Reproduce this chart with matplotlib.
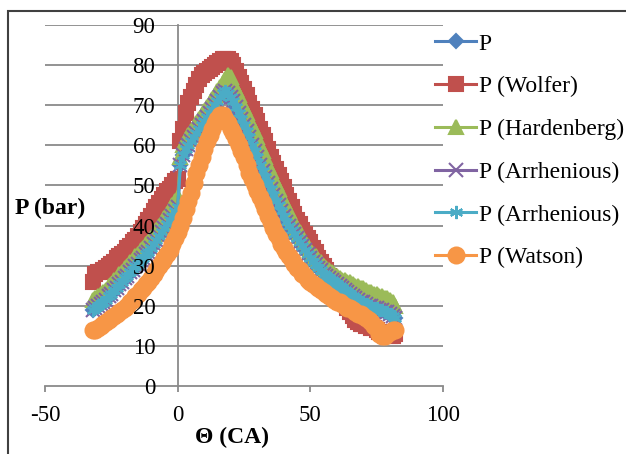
import numpy as np
import matplotlib
matplotlib.use("Agg")
import matplotlib.pyplot as plt
from matplotlib.patches import Rectangle

plt.rcParams['font.family'] = ['Liberation Serif', 'DejaVu Serif']
plt.rcParams['axes.unicode_minus'] = False

# crank angle, 1 deg steps from -32 to 82
theta = np.arange(-32, 83)

p_wolfer = [
    26, 28, 28.5, 28.5, 29, 29.5, 30, 30.5, 31, 32,
    32.5, 33, 33.5, 34.5, 35, 36, 36.5, 37.5, 38.5, 39.5,
    40.5, 41.5, 42.5, 43.5, 44.5, 45.5, 46.5, 47.5, 48.5, 49,
    50, 51, 51.5, 61, 64, 68, 70.5, 72, 73.5, 75,
    76.5, 77.5, 78, 78.5, 79, 79.5, 80, 80.5, 81, 81.5,
    81.5, 81.5, 81, 80, 78.5, 77, 75.5, 74, 72.5, 70.5,
    69, 67.5, 66, 64, 62.5, 61, 59, 57, 55.5, 54,
    52.5, 51, 49.5, 47.5, 46, 44.5, 43, 41.5, 40.5, 39,
    38, 37, 36, 34.5, 33.5, 32, 31, 30, 29, 27.5,
    26.5, 25, 23.5, 22.5, 21.5, 20.5, 19.5, 18.5, 17.5, 16.5,
    16, 15.5, 15.5, 15, 15, 14.5, 14.5, 14, 13.5, 13.5,
    13, 13, 12.5, 12.5, 13]
p_hardenberg = [
    21.5, 22, 22.5, 23, 23.5, 24, 25, 25.5, 26.5, 27,
    28, 28.5, 29.5, 30, 31, 31.5, 32.5, 33, 34, 34.5,
    35.5, 36, 37, 38, 39, 40, 41, 42, 43, 44,
    45, 46, 47, 57, 60, 61.5, 62.5, 63.5, 64.5, 65.5,
    66.5, 67.5, 68.5, 69.5, 70.5, 71.5, 72.5, 73.5, 74.5, 75.5,
    76.5, 77.5, 77, 75.5, 74, 72.5, 71, 69.5, 68, 66.5,
    65, 63.5, 62, 60, 58.5, 57, 55, 53.5, 52, 50.5,
    49, 47.5, 46, 44.5, 43.5, 42, 41, 39.5, 38.5, 37,
    36, 35, 34, 33, 32.5, 31.5, 31, 30, 29.5, 29,
    28.5, 28, 27.5, 27, 26.5, 26.5, 26, 26, 25.5, 25,
    25, 24.5, 24.5, 24, 23.5, 23.5, 23, 23, 22.5, 22.5,
    22, 22, 21.5, 21, 20]
p_arrhenius2 = [
    19, 19.5, 20, 20.5, 21, 21.5, 22.5, 23, 24, 24.5,
    25.5, 26, 27, 27.5, 28.5, 29, 30, 30.5, 31.5, 32,
    33, 33.5, 34.5, 35.5, 36.5, 37.5, 38.5, 39.5, 40.5, 41.5,
    42.5, 43.5, 44.5, 55, 57.5, 59, 60, 61, 62, 63,
    64, 65, 66, 67, 68, 69, 70, 71, 72, 73,
    73.5, 73, 72, 71, 69.5, 68, 66.5, 65, 63.5, 62,
    60, 58.5, 57, 55, 53.5, 52, 50.5, 49, 47.5, 46,
    45, 43.5, 42.5, 41, 40, 39, 38, 37, 36, 35,
    34, 33, 32, 31, 30.5, 29.5, 29, 28, 27.5, 27,
    26.5, 26, 25.5, 25, 24.5, 24, 23.5, 23, 22.5, 22,
    21.5, 21, 21, 20.5, 20, 20, 19.5, 19.5, 19, 19,
    18.5, 18.5, 18, 17.5, 17]
p_watson = [
    14, 14, 14.5, 15, 15.5, 16, 16.5, 17, 17.5, 18,
    18.5, 19, 19.5, 20, 21, 21.5, 22.5, 23, 24, 24.5,
    25.5, 26, 27, 28, 29, 30, 31, 32, 33, 34,
    35.5, 37, 38.5, 40, 42, 44, 46, 48, 50.5, 53,
    55, 57, 59, 61, 62.5, 64, 65.5, 66.5, 67.5, 67.5,
    66.5, 65.5, 64, 63, 61.5, 60, 58.5, 57, 55, 53,
    51.5, 50, 48.5, 47, 45.5, 44, 42.5, 41, 39.5, 38,
    37, 35.5, 34.5, 33.5, 32.5, 31.5, 30.5, 29.5, 29, 28,
    27.5, 26.5, 26, 25.5, 25, 24.5, 24, 23.5, 23, 22.5,
    22, 21.5, 21, 21, 20.5, 20, 19.5, 19.5, 19, 18.5,
    18, 18, 17.5, 17, 16.5, 16, 15, 14.5, 13, 12.5,
    12.5, 13, 13.5, 14, 14]
# P and the first Arrhenious series sit hidden under the cyan one
p_base = list(p_arrhenius2)
p_arrhenius1 = list(p_arrhenius2)

series = [
    ("P", p_base, '#4F81BD', 'D', 7.5),
    ("P (Wolfer)", p_wolfer, '#C0504D', 's', 10),
    ("P (Hardenberg)", p_hardenberg, '#9BBB59', '^', 10),
    ("P (Arrhenious)", p_arrhenius1, '#8064A2', 'x', 9.5),
    ("P (Arrhenious)", p_arrhenius2, '#4BACC6', (6, 2, 0), 9.5),
    ("P (Watson)", p_watson, '#F79646', 'o', 11.5),
]

xticks = [-50, 0, 50, 100]
yticks = list(range(0, 91, 10))

fig = plt.figure(figsize=(6.26, 4.54), dpi=100)
ax = fig.add_axes([0.0719, 0.1498, 0.6358, 0.7952])

grid_c = '#8a8a8a'
ax.hlines(yticks[1:], -50, 100, colors=grid_c, lw=1.3, zorder=0.5)

for name, vals, col, mk, ms in series:
    ax.plot(theta, vals, '-', color=col, lw=2.2, marker=mk, ms=ms,
            mfc=col, mec=col, mew=1.5, label=name, zorder=2)

ax.set_xlim(-50, 100)
ax.set_ylim(0, 90)
ax.set_xticks(xticks)
ax.set_yticks(yticks)
ax.set_axisbelow(False)

for s in ['top', 'right']:
    ax.spines[s].set_visible(False)
ax.spines['left'].set_position(('data', 0))
ax.spines['left'].set_color(grid_c)
ax.spines['left'].set_zorder(1)
ax.spines['bottom'].set_color(grid_c)
ax.spines['bottom'].set_linewidth(1.3)
ax.spines['left'].set_linewidth(1.3)

ax.tick_params(axis='y', length=0, pad=16, labelsize=16.5)
ax.tick_params(axis='x', direction='out', length=4.5, width=1.3, color=grid_c,
               pad=9, labelsize=16.5)

fig.text(15 / 626, 1 - 208 / 454, "P (bar)", fontsize=17, fontweight='bold',
         ha='left', va='center')
fig.text(232 / 626, 1 - 437 / 454, "\u0398 (CA)", fontsize=17, fontweight='bold',
         ha='center', va='center')

ax.legend(loc='upper left', bbox_to_anchor=(435 / 626, 1 - 33 / 454),
          bbox_transform=fig.transFigure, frameon=False, fontsize=17,
          handlelength=1.75, handletextpad=0.1, labelspacing=0.9,
          borderpad=0, borderaxespad=0)

fig.patches.append(Rectangle((8 / 626, -0.1), 1.2, 0.1 + 1 - 11 / 454,
                             transform=fig.transFigure, fill=False,
                             edgecolor='#404040', lw=1.5))

fig.savefig("out.png", dpi=100)
